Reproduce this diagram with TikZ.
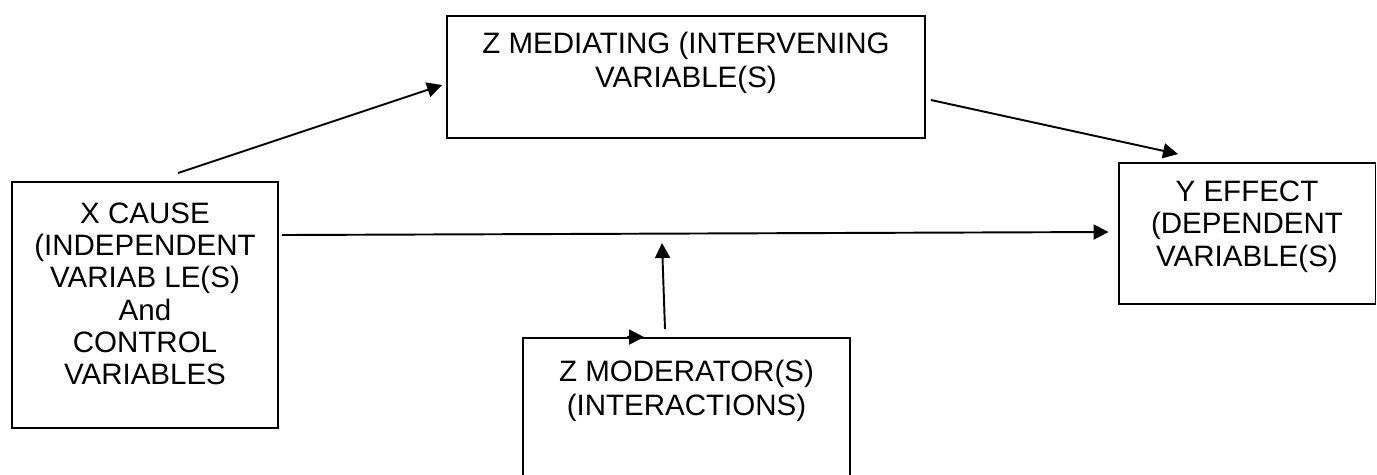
\documentclass[tikz,border=0pt]{standalone}
\usepackage{fontspec}
\setmainfont{Liberation Sans}
\usetikzlibrary{arrows.meta}
\tikzstyle{bx}=[draw=black,line width=1.1pt,inner sep=0pt]
\tikzstyle{txt}=[align=center,anchor=north,inner sep=0pt,font=\fontsize{16.8}{19.2}\selectfont]
\tikzstyle{arr}=[line width=1.1pt,-{Triangle[length=0.3cm,width=0.3cm]}]

\begin{document}
\begin{tikzpicture}[x=0.02cm,y=-0.02cm]
\useasboundingbox (0,0) rectangle (1377,474);
% boxes
\node[bx,minimum width=9.56cm,minimum height=2.44cm] (med) at (686,77) {};
\node[bx,minimum width=5.32cm,minimum height=4.92cm] (cause) at (145,305) {};
\node[bx,minimum width=5.14cm,minimum height=2.82cm] (effect) at (1247,233.5) {};
\node[bx,minimum width=6.54cm,minimum height=2.8cm] (moder) at (686.5,408) {};
% texts
\node[txt] (medtxt) at ([yshift=-0.34cm]med.north) {Z MEDIATING (INTERVENING\\VARIABLE(S)};
\node[txt,font=\fontsize{16.8}{18.4}\selectfont] (causetxt) at ([yshift=-0.42cm]cause.north) {X CAUSE\\(INDEPENDENT\\VARIAB LE(S)\\And\\CONTROL\\VARIABLES};
\node[txt,font=\fontsize{16.8}{18.5}\selectfont] (effecttxt) at ([yshift=-0.36cm]effect.north) {Y EFFECT\\(DEPENDENT\\VARIABLE(S)};
\node[txt] (modertxt) at ([yshift=-0.45cm]moder.north) {Z MODERATOR(S)\\(INTERACTIONS)};
% arrows
\coordinate (mid) at (662,243);
\draw[arr] ([xshift=0.66cm,yshift=0.16cm]cause.north) -- ([xshift=-0.08cm,yshift=-0.16cm]med.west);
\draw[arr] ([xshift=0.1cm,yshift=-0.46cm]med.east) -- ([xshift=-1.38cm,yshift=0.16cm]effect.north);
\draw[arr] ([xshift=0.06cm,yshift=1.4cm]cause.east) -- ([xshift=-0.18cm,yshift=0.03cm]effect.west);
\draw[arr] ([xshift=-0.43cm,yshift=0.16cm]moder.north) -- (mid);
\draw[arr] ([xshift=2.1cm]moder.north west) -- ([xshift=2.44cm]moder.north west);
\end{tikzpicture}
\end{document}
